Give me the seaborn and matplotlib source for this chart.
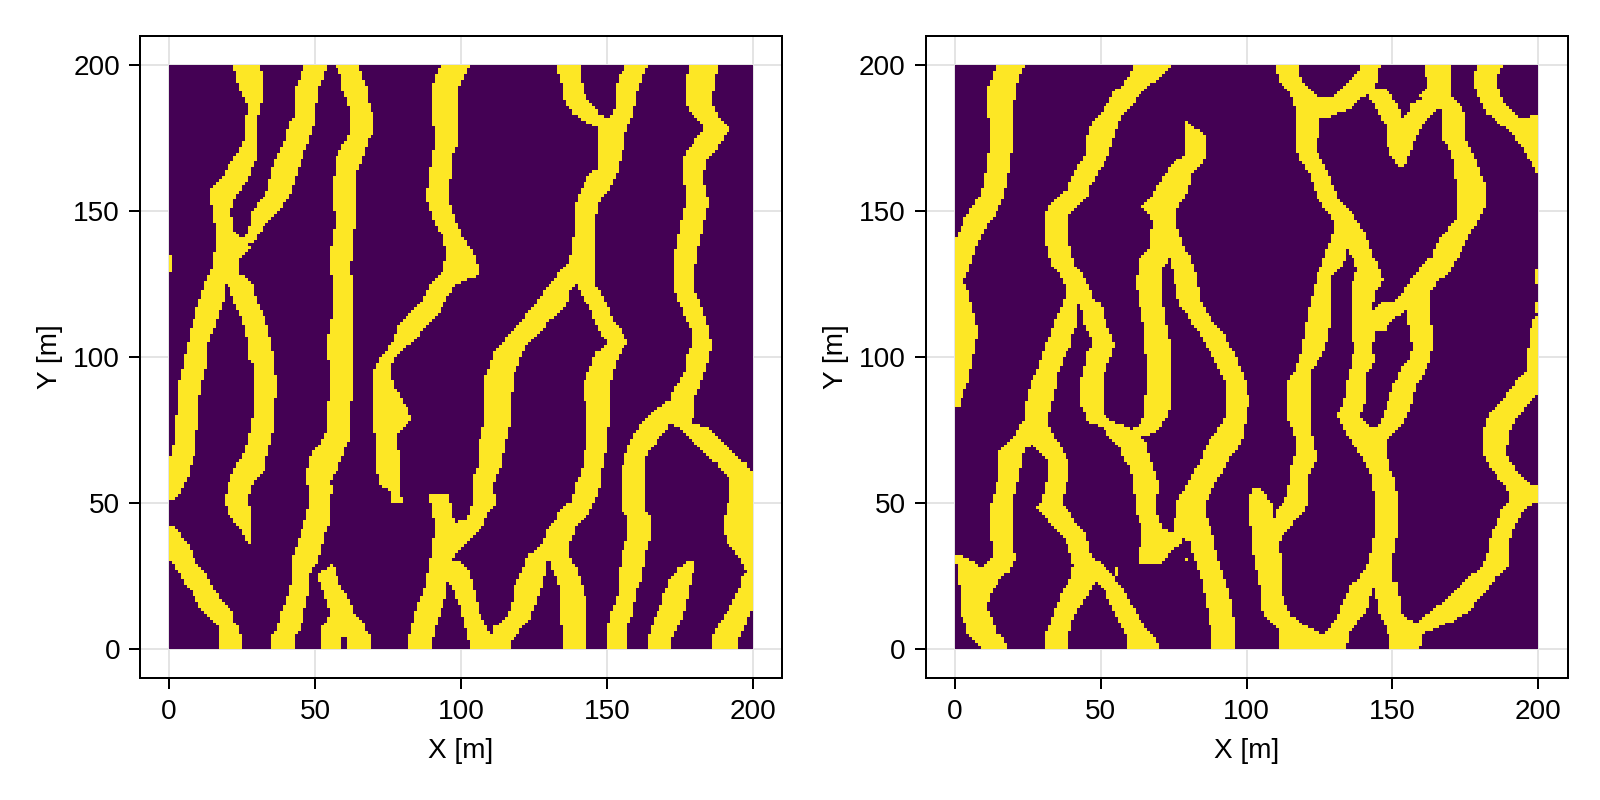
import numpy as np
import matplotlib
matplotlib.use("Agg")
import matplotlib.pyplot as plt
import seaborn as sns

# Each channel: (y [m], left edge x [m], right edge x [m]).
# ---------- left panel ----------
a_west_top = [(200,22,31),(196.6,23,32),(192,24,32),(188.6,26,32),(185.1,27,31),(180.6,26,30),(176,26,30),(172.6,25,30),(169.2,23,30),(165.7,20.3,29),(161.2,18,27),(157.7,14,25),(154.3,14,22.6),(149.7,15,21),(142.9,16,22.6),(137.2,16,28),(133.8,15,24),(130.3,15,24),(128,13.5,24.5)]
a_west_left = [(128,13.5,23),(124.6,12,19),(118.9,10,18.6),(114.4,9,17),(108.7,7,15),(104.1,6.3,13),(98.4,5,13),(92.7,4,11.8),(90.4,3,11),(83.5,3,10),(76.7,2,9.7),(72.1,2,9),(67.6,1,9),(65.3,0,8.3),(58.4,0,6.3),(53.9,0,4),(51,0,1)]
a_west_right = [(128,17,25),(124,21,29),(118.9,22,30),(115.5,24,32),(109.8,26,34),(104.1,27,35),(99.5,27,36),(97.3,29,36),(91,29,37),(81.3,29,36),(76.7,28,36),(72.1,27,35),(67.6,26,34),(64.7,24,33),(61.3,22,33),(58.4,21,30),(55,20,28),(51.6,19,27),(47,20,28),(44.7,21.5,28),(41.3,24,28),(38.5,26,28),(36,27,28)]
a_second = [(200,46,54),(196.6,45,53),(192,43,51),(182.9,43,50),(180.6,41,50),(174.9,40,48),(169.2,37,46),(163.4,35,44),(157.7,34,42),(154.3,32,41),(152,30,39),(149.7,28,37),(146.3,28,34),(142.9,27,31),(139.5,24,29)]
a_third = [(200,57,65),(196.6,58.5,66),(192,59,68),(188.6,61,68),(182.9,62,70),(177.1,62.5,70),(173.7,60,68),(170.3,58,67),(166.9,57,66),(163.4,57,64),(160,56,64),(153.2,56,64),(146.3,57,64),(141.8,56,63),(134.9,55,63),(130.3,55,62),(125.8,56,63),(113.2,56,63),(112.1,55,63),(102.9,54,63),(95,55,63),(75,54,62),(71,52,61.5),(67.6,49,60),(64.7,48,59),(60.1,47,57),(57.3,47,54.5),(55,48,56),(50.4,48,55),(44.7,47,55),(43,46,55),(39,45,53),(33.3,43,52),(29.9,42,51),(25.3,42,48),(19.6,41,48),(16.2,40,47),(11.6,38,46),(7.1,37,45),(4.2,35,43),(0,35,43)]
a_foot = [(28.8,55,56),(25.3,51,57.5),(20.8,52,59),(16.2,54,62),(12.8,55,63),(9.9,54,66),(7.1,52,67),(4.2,52,69)]
a_foot_l = [(4.2,52,59),(0,52,59)]
a_foot_r = [(4.2,61,69),(0,61,69)]
a_corner = [(41.9,0,2),(39,0,4),(35.6,0,7),(31,0,8.3),(28.8,1.5,10),(26.5,3,12),(23,5,14),(19.6,8,16),(16.2,9,18),(12.8,12,22),(9.4,15,22),(7.1,17,24),(3.6,17,25),(0,17,25)]
a_fourth = [(200,93,103),(196.6,91,101),(192,90,99),(185.1,90,99),(172.6,91,98.7),(169.2,90,97),(161.2,89,96.5),(154.3,88,96),(149.7,89.5,97),(145.2,91.5,99),(140.6,94,100.8),(136,95,104.2),(130.3,94,106),(128,93,106),(124.6,89,98),(120,87,95),(115.5,83,92.8),(110.9,78.5,88),(106.4,77,85),(104.1,76,82),(100.7,73,78),(97.3,71,76),(95,70,76),(89.3,70,77),(87,70,79),(82.4,70,81.6),(78.4,70,83),(75,70,79),(72.1,71,78),(64.1,71,79),(56.2,72,79),(53.9,76,79),(50.2,76,80)]
a_edge_stub = [(134.5,0,1),(131,0,1.5),(129,0,1)]
a_mid_w = [(200,132.8,141),(195.4,134,141),(192,135,142),(188.6,135,143),(185.1,137,146),(182.9,139,148),(180.6,143,151),(178.9,146.8,153)]
a_mid_e = [(200,156.7,164),(196.6,154,162.4),(192,153,160.7),(186.3,153,159.6),(183.4,152,159),(181.1,150,158),(178,147,157)]
a_mid = [(178.3,146.8,156.7),(172.6,146.8,155.8),(164.6,146.8,154),(162.3,144,153.3),(157.7,141,151),(154.3,140,148),(152,139,146.8),(144,139,146),(138.3,138,146),(132.6,137,146),(130.3,135,146),(128,134,146)]
a_diag = [(130.3,135,140),(125.8,131,140),(122.3,128,137),(118.9,126,136.7),(115.5,123,134),(112.1,120.7,130),(108.7,117,127),(105.2,114.5,123.6),(104.1,113,122.7),(100.7,111,120.7),(97.3,110,119.6),(93.3,108,118),(83.5,108,117),(77.3,108,117),(73.8,107,116),(71,106,115),(63,106,114),(58.4,104,112),(55,104,111),(50.4,104,112),(48.2,103,110.8),(44.7,102,108),(41.9,96,107.4),(38.5,91,104),(35.6,91,100.8),(32.8,91,98)]
a_flat = [(53,89,96),(47,90,97),(42.5,91,98),(33,90,98),(27,88.7,96),(23,88,95),(19.6,87,95),(15,85,94),(11.6,84,92.6),(5.9,83,91),(3.1,82,90),(0,82,90)]
a_down = [(29.9,92,100),(26.5,92,103),(21.9,96.8,104),(18.5,98,105),(13.9,100,106),(9.4,100.8,107.6),(4.8,102,110),(1.4,103,113),(0,103,113)]
a_up = [(32,123,129),(26.5,120.7,128.7),(23,118.8,128),(19,118,127),(13.9,117,125),(10.5,115,123.6),(7.1,111,121),(4.8,110.5,119),(3.1,103,117.5),(0,103,117)]
a_centre = [(128,136,146),(125.2,140,146),(121.2,141,148.7),(117.8,143.6,150),(113.2,145.5,152),(109.8,147,154.4),(105.2,150,156.7),(104.1,150,156.7),(101.2,146,154.4),(98.4,145,153),(93.8,143,152),(91,142,151),(81.8,142.8,151),(69.9,142.8,150),(59.6,141,148),(56.2,139,147.9),(50.4,138,146),(48.2,134,144.7),(44.7,132.7,142.4),(41.9,130,139.6),(38.5,128.7,138.4),(35.6,127,137),(32.2,123,137),(29.9,123,137.9)]
a_centre_foot = [(29.9,131,137.9),(27.6,131,139.6),(24.2,132.7,140.7),(20.8,134,142),(16.2,134,142.8),(0,135,142.8)]
a_east = [(200,178,188),(194.3,177,187),(187.4,177,186),(185.1,178,187),(182.3,180,188),(179.4,183,191),(177.7,183.5,192.6),(174.9,180.7,189.8),(171.4,178,187.5),(168,176,184),(160,176,183),(157.7,177,184),(153.2,177,185),(149.7,176,184),(145.2,175,183),(139.5,174,182),(134.9,173,180.7),(123.5,173,180),(121.2,174,181),(117.8,175,182),(113.2,177,184),(108.7,179,185),(104.1,179,186),(99.5,177,185),(96.1,177,184),(92.7,175.5,182.7),(89.3,173,181.8),(85.8,172,179.8),(83,168,179.8),(80.1,164.7,179.8),(77.3,162,179)]
a_east_l = [(77.3,162,172),(74.4,160,170),(71,158,167),(67.6,156.7,164),(64.1,155.8,163),(60.7,155,163),(48.2,155,163),(45.3,156.7,164.7),(37.9,156.7,164.7),(35.6,155.8,163.8),(31,155,163),(24.2,154,162),(20.2,154,160),(16.2,153,159.6),(11.6,151,158.8),(7.1,150,156.7),(0,150,156.7)]
a_east_r = [(77.3,172,179),(75.6,175,185),(72.7,178,187.5),(69.9,180.7,190.4),(66.4,184,194),(64.1,187,197),(60.7,190,200),(57.3,192.6,200),(50.4,191.5,200),(44.2,190,200),(36.8,190.7,200),(33.3,193.8,200),(29.9,196,200),(26.5,197.8,200),(25.3,196.5,200),(21.9,196,200),(18.5,194,200),(13.9,192,200),(9.4,189,198),(5.9,187,196.6),(3.1,185.8,195),(0,185.8,195)]
a_short = [(29.9,178,180),(28.2,175,180),(24.2,171.8,179),(20.2,170,178),(13.9,168,177),(7.1,165,174),(3.1,164,172),(0,164,172)]

# ---------- right panel ----------
b_first = [(200,14,24),(195.4,13,22),(192.6,11,21),(184,11,20),(180.6,12,20),(173.1,12,20),(166.9,11,19),(160,10,18),(155.5,8.6,17),(150.9,5.4,14.8),(147.5,3.4,13),(144.6,2.3,10.8),(140,0,8.6),(134.9,0,6.3),(130.3,0,5),(125.8,0,2.9),(121.8,0,5),(115.5,0,6.3),(109.8,0,8),(104.1,0,7.2),(99,0,6),(92.1,0,5),(88.1,0,3),(83.5,0,1.7),(82.7,0,1)]
b_second = [(200,61,74),(196.6,60,71),(193.1,57.4,67),(190.3,54,64),(186.3,52,60.5),(182.3,49,57),(178.9,46,55.9),(173.7,45,54),(169.2,44.5,52.9),(164.6,42,50),(161.2,40,48),(157.7,38.8,46),(154.9,35,46),(152,32,42),(148.6,31,39),(140.6,31,39),(136,32,40),(131.5,33,41),(128,36,44),(124.6,37.7,46),(121.2,38,47),(118.9,36.5,48.4)]
b_second_l = [(118.9,37,42),(115.5,36,42),(110.9,33.7,41.7),(106.4,32.3,40),(104.1,31,40),(100.7,30,37.7),(97.3,29,36.5),(93.3,27,34.8),(90.4,26,35),(87,25,34),(82.4,24,33),(79,24,32),(76.7,22,32),(73.3,21,33.7),(71,18,35)]
b_west = [(71,18,28),(68.7,16,24.5),(66.4,15,23),(58.4,15,22),(55,14,21),(51.6,13,20),(49.3,12,20),(37.9,12,20),(35.6,13,20),(31,13,21),(28.8,9.7,20),(26.5,9,18.5),(24.2,6.3,16),(20.8,2.3,13),(15,2.3,11),(11.6,2.3,12),(9.4,3.4,13),(5.9,4,14),(3.6,6.3,16.5),(1.4,8.6,18),(0,9,18.5)]
b_edge_low = [(32,0,2.3),(29.9,0,6),(27.6,1,9),(23,1,10),(20.8,2.3,11)]
b_west_r = [(71,25.7,35.4),(67.6,29,37),(64.1,32,39),(58.4,32,39),(55,31,38),(50.4,30,37),(48.7,28,37.7),(45.9,31,40),(42.5,33,41.7),(39,37,45),(34.5,39,46),(31,40,47.4),(28.8,40.6,51),(25.3,40,54)]
b_foot_l = [(25.3,40,48.5),(23,39,48.5),(20.8,37,47),(17.3,36,45),(12.8,34,41.7),(9.4,33,40),(5.9,31.4,39.4),(0,31,39)]
b_foot_r = [(25.3,46,54),(20.8,51,57.6),(16.2,53,60),(11.6,55,62.8),(7.1,57.6,65.6),(3.6,59,69),(0,59.4,70)]
b_spike = [(28,55,56),(25,55,56)]
b_second_r = [(118.9,42,50),(115.5,44,51),(110.9,44.5,52),(106.4,46.8,54),(104.1,47,55),(100.7,45,53.6),(97.3,44.5,52),(92.1,43.4,51),(83.5,43.4,51),(80.1,45,51),(78,45,54),(75.6,51,60),(71,54,66),(68.7,56.5,65.6),(65.3,58,67),(61.9,60,68),(57.3,61,70),(48.2,62,69),(44.7,63,70),(41,64,71),(39.5,64,78),(36.8,64,78),(33.3,63,74),(29.3,63,71)]
b_arrow = [(180.6,79,80),(178.9,79,81.6),(176,79,86),(169.2,79,86),(166.9,75,85),(164,73,82),(161.2,71,81),(157.7,69,80),(154.3,67,79),(151.5,64.5,76.5),(148.6,67,76),(145.2,68,76),(141.8,67,77),(137.2,66.5,79),(133.8,63,73.6),(130.3,63,70.8),(125.8,62,70.8),(120,63,70.8),(114.4,64,72),(109.8,65,72.7),(104.1,65,74),(98.4,66,74),(90.4,66,74),(83.5,65,74),(79.6,65,72.7),(76.7,63,70.8),(74.4,60,68.5),(73,59,66)]
b_arrow_r = [(137.2,72,79),(133.8,73.6,81),(131.5,74,81.8),(128,75,82.8),(122.3,76,83.9),(117.8,77,84.8),(114.4,80,86.8),(110.9,81.6,89.6),(107.5,84.5,92.5),(104.1,86,94),(100.7,88,96),(97.3,90,97.5),(93.3,92,99),(89.8,93,100),(84.7,93,101),(81.3,93,100),(77.3,92,99.5),(73.8,89,99),(71,87,98),(67,85,96),(64.7,84.5,93.6),(61.3,82,92),(59,81,90.75),(56.2,80,89),(52.7,77,87.5),(50,76,86),(47,76,86),(43.6,75,87),(40.2,75,88),(36.8,80.5,89),(32.8,81.4,89.8),(26.5,83.7,91.7),(23,85,93),(16,86,94.8),(12.8,87,95),(8.2,87.5,96),(0,88,96)]
b_dot = [(31,79,80),(30,79,80)]
b_heart = [(200,110,118),(194.3,111,118.7),(192,114,122),(188.6,116,125),(182.9,117,125.5),(171.4,117,124),(166.9,118.7,126),(162.3,122,128.4),(157.7,123,130),(153.2,125,132),(149.7,128,136),(146.3,130,138),(141.8,129.6,141),(138.3,128,142)]
b_heart_r = [(138.3,133,142),(134.9,136,143),(133.8,136.4,144),(130.3,137.8,145.5),(125.8,136.4,146.7),(122.3,136,144),(116.6,136,143),(106.4,136,144),(104.1,137,143),(98.4,136,144),(93.8,135,141),(89.3,134,141),(83.5,133,140.4),(80.1,131,139),(77.3,132,141),(75,133.6,145),(71,136,148),(67,138.7,148),(62.4,141.5,149),(58.4,143,151),(49.3,144,152),(40.2,144,152),(35.6,143,151),(29.9,142,150),(26.5,140,150),(23,138,150)]
b_heart_l = [(138.3,128,135),(134.9,127,134),(130.3,125,132.4),(128,124,129.3),(122.3,123,129),(115.5,121,129),(108.7,120,128.4),(103,119,127),(99.5,118,125),(95,116.4,122),(91,114,122),(78.4,114,122),(75.6,116,122),(71,117,123),(65.3,116.4,124),(61.9,115,122.7),(59.6,115,121),(52.7,114,121),(49.3,112,121),(47,110,119.3),(44.2,109.6,117),(41.3,109.6,114.7),(39,108,112)]
b_blob = [(55,102.7,105),(52.2,101,106.7),(49.3,101,108.8),(44.7,101,109.6),(39,102,112),(34.5,102,111),(29.9,103,112.5),(24.2,104,112),(20.2,105,112),(15,105,113.4),(11.6,106,115.3),(8.2,109.6,119.3),(5.9,111,124),(4.2,111,130),(0,111,134)]
b_low_l = [(23,136,146),(20.2,135,143),(16.2,133,142),(12.8,132,141),(9.9,130.5,138.7),(6.5,128,136),(4.2,125,134.7),(3.1,120,134.7),(0,120,134)]
b_low_r = [(23,144,152),(20.2,144,152),(16.2,144.6,153),(11.6,145.5,153.5),(7.1,148,160.4),(3.6,149,160.4),(0,149,159)]
b_band = [(200,139,146),(197.7,138.7,144.8),(195.4,136.4,144.8),(192,133,144),(189.1,130,141),(188.6,125,139.3),(185.1,124,136),(183.4,124,130.7),(181.7,125,128)]
b_vee_l = [(192,143,147.8),(189.1,142,150),(186.3,144,152),(181.7,146,153.5),(178.9,148,160),(173.1,148,157),(169.2,149.5,155.8),(166.9,151,154.7),(165,152,154)]
b_tall = [(200,161,170),(192,162,170),(189.1,159,170)]
b_vee_r = [(189.1,161,170),(186.3,156,166),(184,155.5,165),(181.7,153.5,162),(178.9,153.5,160)]
b_bulge = [(189.1,165,170),(186.3,166,173.5),(183.4,167,175),(174.9,167,175),(172.6,169,176),(166.9,170.7,179),(163.4,171,180),(158.9,172,182),(152,172,182),(147.5,172,180),(144.6,169.5,178),(141.2,166.7,176),(138.3,165,174.7),(134.9,164,173),(131.5,160,170.7),(128.6,158,169),(125.8,156,165.5),(122.3,153.5,163),(118.9,150,163)]
b_bulge_l = [(118.9,146.7,156),(115.5,143,154),(112.6,143,150),(108.7,143,147)]
b_bulge_r = [(118.9,155,163),(114.9,155,163),(106.4,156,164),(104.1,157,164),(99.5,156,163),(96.7,153,162),(93.3,152,160),(89.8,150,158),(87,149,157),(83,148,156.4),(79.6,146.7,154.7),(76.7,145.5,153.5),(74.4,143,151),(71,141,148)]
b_ne = [(200,179,188),(196.6,178,186.3),(192,178.4,186.3),(188,180,188),(185,181.5,190),(183.4,182,192),(181.7,185,194.6),(178.9,187.8,200),(177.7,190,200),(174.9,192,200),(171.4,194.8,200),(169.2,196,200),(166.4,198,200),(163.2,199,200)]
b_wedge = [(182.9,198,200),(181.1,194,200),(178.9,190,200)]
b_edge_a = [(130.3,199,200),(125.2,199,200)]
b_edge_b = [(118.9,199,200),(115.5,199,200)]
b_se = [(114.4,199,200),(112.1,198,200),(108.7,197,200),(104.1,197,200),(101.8,196,200),(95,196,200),(93.3,194,200),(89.8,191,200),(87,189,200),(85.3,188,198),(83,185,195.8),(80.1,183,193.7),(77.8,182,191.8),(73.3,181,190),(67.6,181,189),(64.7,182,190),(61.3,184,192.4),(57.9,186.9,195.2),(55,189,198),(53.3,190,200),(49.9,190,200),(49.3,188,197),(46.5,187,194),(43,186,192.4),(40.2,184,191),(35.6,183,190),(31,182,190),(28.8,181,190),(26.5,178.6,188),(24.2,176,185),(20.2,172,182.6),(16.2,168,179),(12.8,163,176),(9.4,159,170.7),(7.1,156,165),(5,155,160)]
b_se_stub = [(55.5,198,200),(53,195,200)]

left_channels = [a_west_top,a_west_left,a_west_right,a_second,a_third,a_foot,a_foot_l,a_foot_r,a_corner,a_fourth,a_edge_stub,a_mid_w,a_mid_e,a_mid,a_diag,a_flat,a_down,a_up,a_centre,a_centre_foot,a_east,a_east_l,a_east_r,a_short]
right_channels = [b_first,b_second,b_second_l,b_west,b_edge_low,b_west_r,b_foot_l,b_foot_r,b_spike,b_second_r,b_arrow,b_arrow_r,b_dot,b_heart,b_heart_r,b_heart_l,b_blob,b_low_l,b_low_r,b_band,b_vee_l,b_tall,b_vee_r,b_bulge,b_bulge_l,b_bulge_r,b_ne,b_wedge,b_edge_a,b_edge_b,b_se,b_se_stub]

tick_values = [0, 50, 100, 150, 200]
x_label = "X [m]"
y_label = "Y [m]"
N = 200


def facies_grid(channels):
    grid = np.zeros((N, N))
    centres = np.arange(N) + 0.5
    for ch in channels:
        arr = np.array(sorted(ch))
        for row in range(N):
            y = centres[row]
            if arr[0, 0] <= y <= arr[-1, 0]:
                l = np.interp(y, arr[:, 0], arr[:, 1])
                r = np.interp(y, arr[:, 0], arr[:, 2])
                grid[row, (centres >= l) & (centres <= r)] = 1
    return grid


sns.set_theme(style="white")
plt.rcParams["font.family"] = ["Liberation Sans", "DejaVu Sans"]

W, H = 1600, 800
fig = plt.figure(figsize=(W / 100, H / 100), dpi=100)
boxes = [(140, 36, 642, 642), (925.5, 36, 642, 642)]
px = 72 / 100
FS = 28 * px

for (x0, y0, w, h), channels in zip(boxes, [left_channels, right_channels]):
    ax = fig.add_axes([x0 / W, 1 - (y0 + h) / H, w / W, h / H])
    sns.heatmap(facies_grid(channels), ax=ax, cmap="viridis", vmin=0, vmax=1,
                cbar=False, square=False, xticklabels=False, yticklabels=False)
    ax.set_xlim(-10, 210)
    ax.set_ylim(-10, 210)
    ax.set_xticks(tick_values, [str(t) for t in tick_values])
    ax.set_yticks(tick_values, [str(t) for t in tick_values], rotation=0)
    ax.set_axisbelow(True)
    ax.grid(True, color="#e4e4e4", lw=2 * px)
    ax.tick_params(axis="both", length=11 * px, width=2 * px, color="black",
                   labelsize=FS, labelcolor="black", bottom=True, left=True)
    ax.tick_params(axis="x", pad=10 * px)
    ax.tick_params(axis="y", pad=9 * px)
    for s in ax.spines.values():
        s.set_visible(True)
        s.set_color("black")
        s.set_linewidth(2 * px)
    ax.set_xlabel(x_label, fontsize=FS, color="black", labelpad=13 * px)
    ax.set_ylabel(y_label, fontsize=FS, color="black", labelpad=10 * px)

fig.savefig("out.png", dpi=100, facecolor="white")
